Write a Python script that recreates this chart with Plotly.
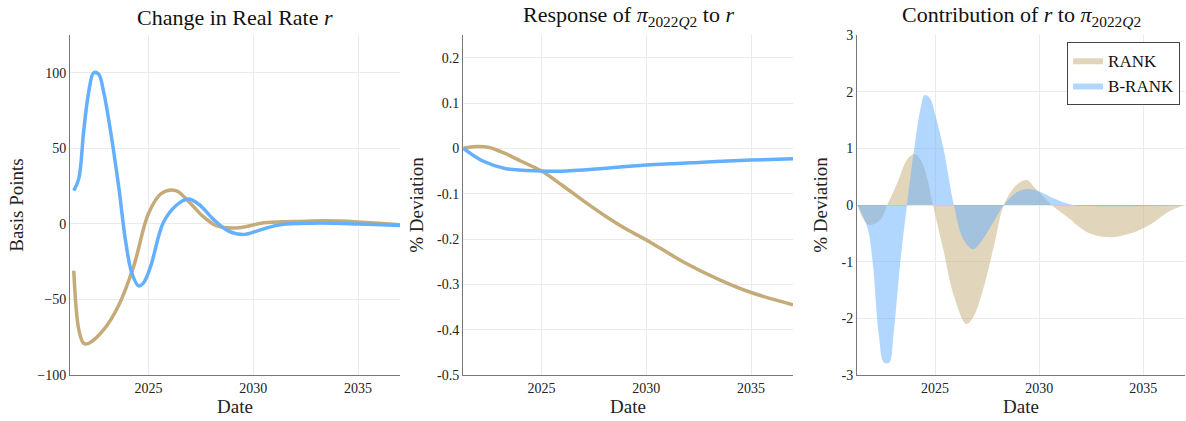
import plotly.graph_objects as go

# Panel 1: Change in real rate (basis points)
p1_rank_x = [2021.43, 2021.67, 2021.9, 2022.14, 2022.86, 2023.57, 2024.29, 2025.0, 2025.6, 2026.3, 2026.9, 2027.6, 2028.3, 2029.3, 2030.5, 2031.9, 2033.3, 2035.0, 2037.0]
p1_rank_y = [-31, -70, -79, -79, -70, -54, -28, 7, 20, 22, 15, 5, -1.5, -2.5, 0.7, 1.5, 2, 1.3, -0.5]
p1_brank_x = [2021.43, 2021.67, 2021.9, 2022.14, 2022.38, 2022.62, 2022.86, 2023.19, 2023.57, 2023.9, 2024.19, 2024.52, 2024.76, 2025.1, 2025.7, 2026.3, 2026.9, 2027.4, 2028.1, 2028.8, 2029.5, 2030.2, 2031.2, 2032.9, 2035.0, 2037.0]
p1_brank_y = [22, 30, 61, 87, 100, 99, 87, 61, 25, -11, -32, -41, -39, -28, 0.7, 12, 16.5, 13, 3, -4.6, -7, -4.6, -0.7, 0.5, 0, -1]

# Panel 2: Response of pi_2022Q2 to r (% deviation)
p2_rank_x = [2021.27, 2021.9, 2022.5, 2023.2, 2024.0, 2025.0, 2026.0, 2027.0, 2028.0, 2029.0, 2030.0, 2031.75, 2033.5, 2035.0, 2037.0]
p2_rank_y = [0, 0.004, 0.002, -0.01, -0.028, -0.05, -0.082, -0.116, -0.148, -0.177, -0.202, -0.25, -0.29, -0.318, -0.345]
p2_brank_x = [2021.27, 2022.2, 2023.3, 2025.0, 2026.2, 2030.0, 2032.5, 2035.0, 2037.0]
p2_brank_y = [0, -0.028, -0.045, -0.05, -0.05, -0.037, -0.031, -0.026, -0.023]

# Panel 3: Contribution of r to pi_2022Q2 (% deviation)
p3_rank_x = [2021.27, 2021.8, 2022.4, 2022.7, 2023.2, 2023.65, 2024.0, 2024.3, 2024.6, 2024.9, 2025.4, 2025.9, 2026.5, 2026.8, 2027.3, 2027.9, 2028.3, 2028.9, 2029.4, 2029.8, 2030.6, 2031.3, 2032.4, 2033.4, 2034.4, 2035.4, 2036.2, 2036.95]
p3_rank_y = [0, -0.35, -0.25, 0, 0.4, 0.8, 0.9, 0.8, 0.5, 0.0, -0.8, -1.6, -2.1, -2.0, -1.5, -0.6, 0, 0.35, 0.44, 0.3, 0, -0.2, -0.5, -0.57, -0.5, -0.33, -0.12, 0]
p3_brank_x = [2021.27, 2021.75, 2022.0, 2022.3, 2022.54, 2022.8, 2023.0, 2023.33, 2023.65, 2024.0, 2024.3, 2024.5, 2024.76, 2025.0, 2025.4, 2025.9, 2026.35, 2026.8, 2027.1, 2027.8, 2028.3, 2028.9, 2029.4, 2030.0, 2030.8, 2031.6, 2032.9, 2034.5, 2036.95]
p3_brank_y = [0, -0.4, -1.0, -2.3, -2.78, -2.78, -2.3, -1.0, 0, 1.0, 1.7, 1.94, 1.88, 1.6, 1.0, 0, -0.6, -0.78, -0.7, -0.3, 0, 0.22, 0.28, 0.24, 0.1, 0, -0.02, -0.02, 0]

TAN = "#c4ab78"
BLUE = "#64b0ff"
FONT = "Liberation Serif"

fig = go.Figure()
fig.add_trace(go.Scatter(x=p1_rank_x, y=p1_rank_y, mode="lines", line=dict(color=TAN, width=3.5, shape="spline"), showlegend=False, xaxis="x", yaxis="y"))
fig.add_trace(go.Scatter(x=p1_brank_x, y=p1_brank_y, mode="lines", line=dict(color=BLUE, width=3.5, shape="spline"), showlegend=False, xaxis="x", yaxis="y"))
fig.add_trace(go.Scatter(x=p2_rank_x, y=p2_rank_y, mode="lines", line=dict(color=TAN, width=3.5, shape="spline"), showlegend=False, xaxis="x2", yaxis="y2"))
fig.add_trace(go.Scatter(x=p2_brank_x, y=p2_brank_y, mode="lines", line=dict(color=BLUE, width=3.5, shape="spline"), showlegend=False, xaxis="x2", yaxis="y2"))
fig.add_trace(go.Scatter(x=p3_rank_x, y=p3_rank_y, mode="lines", name="RANK", fill="tozeroy",
                         fillcolor="rgba(196,171,120,0.5)", line=dict(width=0, shape="spline", color="rgba(196,171,120,0.5)"), xaxis="x3", yaxis="y3"))
fig.add_trace(go.Scatter(x=p3_brank_x, y=p3_brank_y, mode="lines", name="B-RANK", fill="tozeroy",
                         fillcolor="rgba(100,176,255,0.5)", line=dict(width=0, shape="spline", color="rgba(100,176,255,0.5)"), xaxis="x3", yaxis="y3"))

W, H = 1186, 421
domains = [(70, 400), (463, 793), (857, 1185)]
yranges = [(-100, 125), (-0.5, 0.25), (-3, 3)]
ytick = [dict(tickvals=[-100, -50, 0, 50, 100]),
         dict(tickvals=[-0.5, -0.4, -0.3, -0.2, -0.1, 0, 0.1, 0.2], ticktext=["-0.5", "-0.4", "-0.3", "-0.2", "-0.1", "0", "0.1", "0.2"]),
         dict(tickvals=[-3, -2, -1, 0, 1, 2, 3], ticktext=["-3", "-2", "-1", "0", "1", "2", "3"])]
ytitles = ["Basis Points", "% Deviation", "% Deviation"]
titles = ["Change in Real Rate <i>r</i>",
          "Response of <i>π</i><sub>2022<i>Q</i>2</sub> to <i>r</i>",
          "Contribution of <i>r</i> to <i>π</i><sub>2022<i>Q</i>2</sub>"]

layout = dict(width=W, height=H, paper_bgcolor="white", plot_bgcolor="white",
              margin=dict(l=0, r=0, t=35, b=46), font=dict(family=FONT, size=14, color="#222"))
axis_common = dict(showgrid=True, gridcolor="#ebebeb", showline=True, linecolor="#777", linewidth=1,
                   zeroline=False, ticks="", automargin=False, tickfont=dict(family=FONT, size=14, color="#222"))
ann = []
for i, ((a, b), yr, yt, ytt, tt) in enumerate(zip(domains, yranges, ytick, ytitles, titles)):
    sx = "" if i == 0 else str(i + 1)
    layout["xaxis" + sx] = dict(axis_common, domain=[a / W, b / W], range=[2021.25, 2037], tickvals=[2025, 2030, 2035],
                                anchor="y" + sx, title=dict(text="Date", font=dict(family=FONT, size=19, color="#222"), standoff=4))
    layout["yaxis" + sx] = dict(axis_common, domain=[0, 1], range=list(yr), anchor="x" + sx,
                                title=dict(text=ytt, font=dict(family=FONT, size=19, color="#222"), standoff=8), **yt)
    ann.append(dict(text=tt, x=(a + b) / 2 / W, y=1, xref="paper", yref="paper", xanchor="center", yanchor="bottom",
                    yshift=3, showarrow=False, font=dict(family=FONT, size=22, color="#111")))
layout["annotations"] = ann
layout["legend"] = dict(x=0.995, y=0.98, xanchor="right", yanchor="top", bordercolor="#444", borderwidth=1,
                        bgcolor="white", font=dict(family=FONT, size=17, color="#111"))
fig.update_layout(**layout)
fig.write_html("out.html", config={"displayModeBar": False},
               post_script="document.body.style.margin='0';document.body.style.overflow='hidden';")
